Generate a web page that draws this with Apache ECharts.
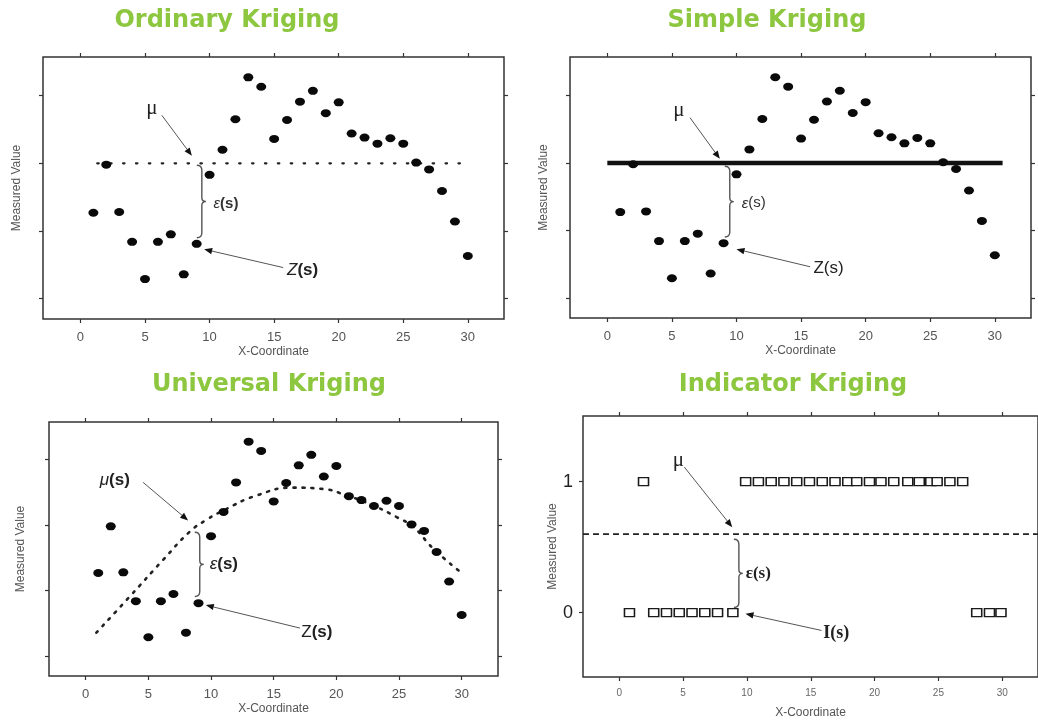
<!DOCTYPE html>
<html><head><meta charset="utf-8">
<script src="https://cdn.jsdelivr.net/npm/echarts@6/dist/echarts.min.js"></script>
<style>html,body{margin:0;padding:0;background:#fff}#c{width:1038px;height:722px}</style>
</head><body><div id="c"></div>
<script>
// ---------- data ----------
const xCoords = [1,2,3,4,5,6,7,8,9,10,11,12,13,14,15,16,17,18,19,20,21,22,23,24,25,26,27,28,29,30];
const zValues = [1.27,1.98,1.28,0.84,0.29,0.84,0.95,0.36,0.81,1.83,2.20,2.65,3.27,3.13,2.36,2.64,2.91,3.07,2.74,2.90,2.44,2.38,2.29,2.37,2.29,2.01,1.91,1.59,1.14,0.63];
const meanValue = 2.0;
const okMeanSpan = [1.3, 29.7];
const skMeanSpan = [0, 30.6];
const trendX = [0.85,3.51,6.18,8.31,9.64,10.97,13.63,16.56,18.95,20.82,22.68,24.82,26.14,27.74,29.87];
const trendY = [0.36,0.91,1.47,1.90,2.08,2.22,2.45,2.57,2.55,2.45,2.32,2.12,1.97,1.64,1.29];
const indicatorOneX = [1.9,9.9,10.9,11.9,12.9,13.9,14.9,15.9,16.9,17.9,18.6,19.6,20.5,21.5,22.6,23.5,24.4,24.9,25.9,26.9];
const indicatorZeroX = [0.8,2.7,3.7,4.7,5.7,6.7,7.7,8.9,28.0,29.0,29.9];
const indicatorMean = 0.6;
const indicatorSpan = [-2.84, 32.8];
const xTickValues = [0,5,10,15,20,25,30];
const yTickValues = [0,1,2,3];
const indicatorTickValues = [0,1];
const titles = ['Ordinary Kriging','Simple Kriging','Universal Kriging','Indicator Kriging'];

// ---------- annotations (data coords) ----------
const annots = [
  { labels:[{p:[5.1,2.81],t:'{mu|μ}'},{p:[10.3,1.40],t:'{it|ε}{b|(s)}'},{p:[16.0,0.42],t:'{it2|Z}{b2|(s)}'}],
    arrows:[[[6.3,2.71],[8.63,2.11]],[[15.7,0.46],[9.58,0.73]]], brace:{x:9.4,y0:1.97,y1:0.90} },
  { labels:[{p:[5.1,2.78],t:'{mu|μ}'},{p:[10.4,1.40],t:'{it|ε}{n|(s)}'},{p:[15.96,0.44],t:'{n2|Z(s)}'}],
    arrows:[[[6.4,2.67],[8.71,2.06]],[[15.7,0.46],[10.0,0.72]]], brace:{x:9.48,y0:1.95,y1:0.90} },
  { labels:[{p:[1.12,2.68],t:'{it2|μ}{b2|(s)}'},{p:[9.9,1.40],t:'{it2|ε}{b2|(s)}'},{p:[17.2,0.37],t:'{n2|Z}{b2|(s)}'}],
    arrows:[[[4.58,2.65],[8.17,2.07]],[[17.1,0.43],[9.58,0.78]]], brace:{x:9.1,y0:1.89,y1:0.91} },
  { labels:[{p:[4.19,1.16],t:'{mu|μ}'},{p:[9.9,0.30],t:'{se|ε(s)}'},{p:[15.97,-0.16],t:'{se2|I(s)}'}],
    arrows:[[[5.1,1.11],[8.85,0.652]],[[15.84,-0.135],[9.89,-0.008]]], brace:{x:9.37,y0:0.56,y1:0.04} }
];

const richStyles = {
  mu:{fontFamily:'Liberation Serif',fontSize:21,fill:'#222'},
  it:{fontFamily:'Liberation Sans',fontSize:15,fontStyle:'italic',fill:'#333'},
  b:{fontFamily:'Liberation Sans',fontSize:15,fontWeight:'bold',fill:'#333'},
  n:{fontFamily:'Liberation Sans',fontSize:15,fill:'#333'},
  it2:{fontFamily:'Liberation Sans',fontSize:17,fontStyle:'italic',fill:'#222'},
  b2:{fontFamily:'Liberation Sans',fontSize:17,fontWeight:'bold',fill:'#222'},
  n2:{fontFamily:'Liberation Sans',fontSize:17,fill:'#222'},
  se:{fontFamily:'Liberation Serif',fontSize:17,fontWeight:'bold',fill:'#222'},
  se2:{fontFamily:'Liberation Serif',fontSize:18,fontWeight:'bold',fill:'#222'}
};

// ---------- layout ----------
const grids = [
  {left:43, top:57, width:461, height:262},
  {left:570, top:57, width:461, height:261},
  {left:49, top:422, width:449, height:254},
  {left:583, top:416, width:459, height:261}
];
const xRanges = [[-2.9,32.8],[-2.89,32.8],[-2.93,32.9],[-2.84,32.8]];
const yRanges = [[-0.3,3.57],[-0.3,3.57],[-0.3,3.57],[-0.49,1.5]];
const titlePos = [[227,9],[767,9],[269,373],[793,373]];

const FONT = 'Liberation Sans';
const xAxis = [], yAxis = [];
grids.forEach((g,i)=>{
  const small = i===3;
  const yt = i===3 ? indicatorTickValues : yTickValues;
  const tick = (vals)=>({show:true, length:4, customValues:vals, lineStyle:{color:'#333',width:1.2}});
  xAxis.push({type:'value', gridIndex:i, position:'bottom', min:xRanges[i][0], max:xRanges[i][1],
    axisLine:{show:false, onZero:false}, splitLine:{show:false},
    axisTick:tick(xTickValues),
    axisLabel:{show:true, customValues:xTickValues, margin: small?11:12, fontSize: small?10:13, color: small?'#666':'#555', fontFamily:FONT},
    name:'X-Coordinate', nameLocation:'middle', nameGap: small?30:27,
    nameTextStyle:{fontSize:12, color:'#555', fontFamily:FONT}});
  xAxis.push({type:'value', gridIndex:i, position:'top', min:xRanges[i][0], max:xRanges[i][1],
    axisLine:{show:false, onZero:false}, splitLine:{show:false}, axisLabel:{show:false},
    axisTick:tick(xTickValues)});
  yAxis.push({type:'value', gridIndex:i, position:'left', min:yRanges[i][0], max:yRanges[i][1],
    axisLine:{show:false, onZero:false}, splitLine:{show:false},
    axisTick:tick(yt),
    axisLabel:{show:small, customValues:yt, margin:10, fontSize:18, color:'#222', fontFamily:FONT},
    name:'Measured Value', nameLocation:'middle', nameGap: small?22:(i===2?22:20), nameRotate:90,
    nameTextStyle:{fontSize:12, color:'#555', fontFamily:FONT}});
  yAxis.push({type:'value', gridIndex:i, position:'right', min:yRanges[i][0], max:yRanges[i][1],
    axisLine:{show:false, onZero:false}, splitLine:{show:false}, axisLabel:{show:false},
    axisTick:tick(yt)});
});

function annotSeries(gi, spec){
  return {type:'custom', xAxisIndex:2*gi, yAxisIndex:2*gi, silent:true, clip:false, z:10,
    data:[[0,0]],
    renderItem:function(params, api){
      if (params.dataIndex>0) return null;
      const ch = [];
      spec.arrows.forEach(a=>{
        const p0 = api.coord(a[0]), p1 = api.coord(a[1]);
        const dx=p1[0]-p0[0], dy=p1[1]-p0[1], L=Math.hypot(dx,dy), ux=dx/L, uy=dy/L;
        const hl=8, hw=3.2, bx=p1[0]-ux*hl, by=p1[1]-uy*hl;
        ch.push({type:'line', shape:{x1:p0[0],y1:p0[1],x2:bx,y2:by}, style:{stroke:'#555',lineWidth:1}});
        ch.push({type:'polygon', shape:{points:[[p1[0],p1[1]],[bx-uy*hw,by+ux*hw],[bx+uy*hw,by-ux*hw]]}, style:{fill:'#111'}});
      });
      const b = spec.brace;
      const t = api.coord([b.x,b.y0]), bt = api.coord([b.x,b.y1]);
      const x=t[0], y0=t[1], y1=bt[1], ym=(y0+y1)/2;
      const d = `M ${x-5} ${y0} Q ${x} ${y0} ${x} ${y0+5} L ${x} ${ym-4} Q ${x} ${ym} ${x+4} ${ym} Q ${x} ${ym} ${x} ${ym+4} L ${x} ${y1-5} Q ${x} ${y1} ${x-5} ${y1}`;
      ch.push({type:'path', shape:{pathData:d}, style:{stroke:'#555', lineWidth:1.4, fill:'transparent'}});
      spec.labels.forEach(l=>{
        const p = api.coord(l.p);
        ch.push({type:'text', x:p[0], y:p[1], style:{text:l.t, rich:richStyles, align:'left', verticalAlign:'middle'}});
      });
      return {type:'group', children:ch};
    }};
}

const pts = xCoords.map((x,i)=>[x, zValues[i]]);
const dotStyle = {type:'scatter', symbol:'circle', symbolSize:[10,8], itemStyle:{color:'#0a0a0a', opacity:1}, z:5, silent:true};
const sqStyle = {color:'#fff', borderColor:'#1a1a1a', borderWidth:1.4, opacity:1};
const series = [];
// panel 1
series.push(Object.assign({}, dotStyle, {xAxisIndex:0, yAxisIndex:0, data:pts}));
series.push({type:'line', xAxisIndex:0, yAxisIndex:0, silent:true, symbol:'none',
  data:okMeanSpan.map(x=>[x,meanValue]), lineStyle:{color:'#222', width:2.2, type:[1.5,11.4], cap:'round'}});
// panel 2
series.push(Object.assign({}, dotStyle, {xAxisIndex:2, yAxisIndex:2, data:pts}));
series.push({type:'line', xAxisIndex:2, yAxisIndex:2, silent:true, symbol:'none',
  data:skMeanSpan.map(x=>[x,meanValue]), lineStyle:{color:'#111', width:4.5}});
// panel 3
series.push(Object.assign({}, dotStyle, {xAxisIndex:4, yAxisIndex:4, data:pts}));
series.push({type:'line', xAxisIndex:4, yAxisIndex:4, silent:true, symbol:'none', smooth:0.5,
  data:trendX.map((x,i)=>[x,trendY[i]]), lineStyle:{color:'#222', width:2.6, type:[2,7], cap:'round'}});
// panel 4
series.push({type:'scatter', xAxisIndex:6, yAxisIndex:6, silent:true, symbol:'rect', symbolSize:[10,8],
  itemStyle:sqStyle, data:indicatorOneX.map(x=>[x,1])});
series.push({type:'scatter', xAxisIndex:6, yAxisIndex:6, silent:true, symbol:'rect', symbolSize:[10,8],
  itemStyle:sqStyle, data:indicatorZeroX.map(x=>[x,0])});
series.push({type:'line', xAxisIndex:6, yAxisIndex:6, silent:true, symbol:'none',
  data:indicatorSpan.map(x=>[x,indicatorMean]), lineStyle:{color:'#222', width:1.8, type:[6,4]}});
annots.forEach((a,i)=>series.push(annotSeries(i,a)));

const chart = echarts.init(document.getElementById('c'), null, {renderer:'canvas'});
chart.setOption({
  animation:false,
  backgroundColor:'#fff',
  title: titles.map((t,i)=>({text:t, left:titlePos[i][0], top:titlePos[i][1], textAlign:'center', padding:0,
    textStyle:{color:'#8DC63F', fontSize:24, fontWeight:'bold', fontFamily:'DejaVu Sans'}})),
  grid: grids.map(g=>Object.assign({show:true, borderColor:'#333', borderWidth:1.5, backgroundColor:'transparent', containLabel:false}, g)),
  xAxis, yAxis, series
});
</script></body></html>
